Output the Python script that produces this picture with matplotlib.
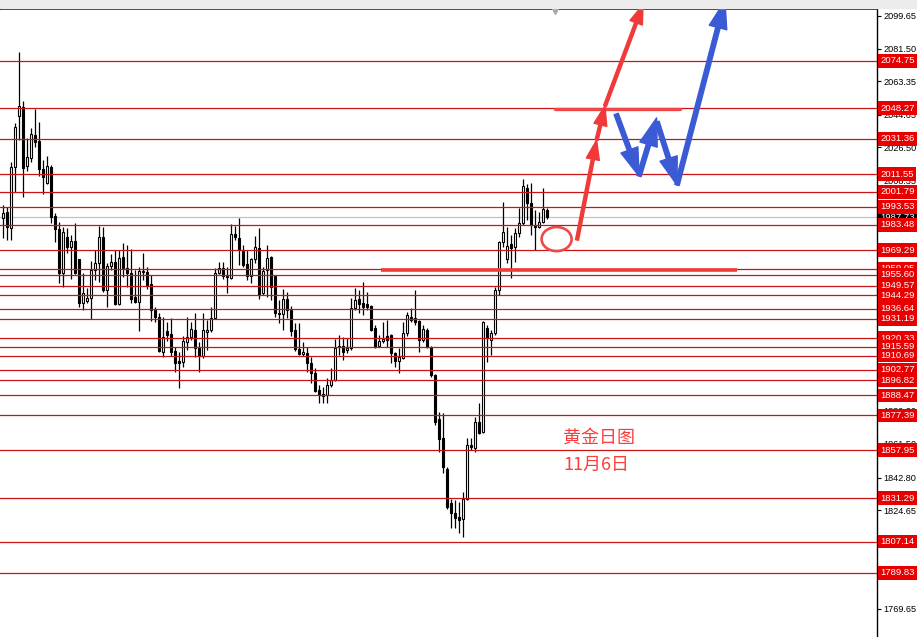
import numpy as np
import matplotlib.pyplot as plt
from matplotlib.patches import Ellipse, FancyArrowPatch, Rectangle

plt.rcParams['font.family'] = ['Liberation Sans', 'DejaVu Sans']

# daily gold candles (oldest -> newest)
opens = [1987.2, 1990.6, 1981.7, 2015.6, 2044.0, 2049.0, 2016.2, 2020.6, 2033.4, 2030.1,
         2014.5, 2006.7, 2015.6, 1988.3, 1981.1, 1956.6, 1976.7, 1971.1, 1974.4, 1964.4,
         1939.9, 1941.0, 1942.7, 1958.3, 1962.2, 1976.7, 1947.2, 1960.5, 1962.7, 1939.4,
         1965.5, 1959.4, 1956.6, 1943.3, 1940.5, 1957.2, 1957.2, 1950.5, 1936.0, 1932.1,
         1912.7, 1924.3, 1922.7, 1913.2, 1907.7, 1907.1, 1918.2, 1921.0, 1924.9, 1914.9,
         1910.4, 1923.8, 1924.9, 1931.6, 1956.6, 1959.4, 1954.8, 1953.8, 1978.3, 1976.1,
         1968.9, 1961.6, 1955.0, 1964.4, 1970.5, 1945.5, 1958.3, 1965.5, 1955.0, 1934.4,
         1933.8, 1942.2, 1936.0, 1924.9, 1914.3, 1911.6, 1912.1, 1906.5, 1901.0, 1891.5,
         1889.3, 1888.7, 1894.3, 1897.1, 1916.0, 1916.0, 1913.8, 1914.9, 1937.2, 1942.2,
         1939.9, 1939.4, 1938.3, 1926.0, 1916.0, 1918.8, 1921.6, 1922.1, 1912.1, 1907.7,
         1909.3, 1923.2, 1932.1, 1931.6, 1929.9, 1919.3, 1924.9, 1915.4, 1899.9, 1875.4,
         1864.8, 1847.6, 1828.6, 1823.1, 1820.8, 1819.7, 1830.9, 1860.9, 1859.2, 1873.7,
         1868.1, 1926.0, 1919.3, 1923.2, 1947.2, 1973.9, 1964.4, 1972.8, 1971.1, 1978.9,
         1984.5, 2003.9, 1995.6, 1983.3, 1982.2, 1985.0, 1991.7]
highs = [1994.5, 1993.4, 2018.4, 2040.1, 2079.6, 2052.3, 2031.8, 2037.3, 2047.9, 2040.7,
         2019.5, 2021.7, 2016.7, 1990.0, 1985.0, 1982.2, 1981.7, 1977.8, 1984.5, 1964.4,
         1956.6, 1948.3, 1963.3, 1969.4, 1982.8, 1982.2, 1962.2, 1967.2, 1969.4, 1969.4,
         1973.3, 1972.2, 1970.0, 1958.3, 1960.0, 1967.8, 1960.0, 1955.5, 1937.7, 1934.4,
         1932.1, 1929.4, 1931.6, 1915.4, 1912.7, 1921.6, 1932.1, 1929.4, 1934.4, 1918.2,
         1934.4, 1930.5, 1937.7, 1959.4, 1962.7, 1962.7, 1960.0, 1983.9, 1982.8, 1987.2,
         1972.2, 1969.4, 1965.0, 1977.2, 1981.7, 1960.0, 1972.2, 1966.1, 1955.6, 1941.6,
         1947.7, 1946.1, 1938.3, 1928.8, 1928.8, 1918.2, 1915.4, 1909.9, 1903.8, 1894.3,
         1893.2, 1898.2, 1903.8, 1919.9, 1922.1, 1921.0, 1920.5, 1942.7, 1948.3, 1947.2,
         1951.6, 1946.1, 1938.8, 1927.7, 1922.1, 1929.4, 1930.5, 1922.6, 1912.7, 1914.9,
         1929.4, 1934.9, 1937.2, 1947.2, 1930.5, 1927.7, 1926.0, 1916.0, 1900.4, 1879.3,
         1878.7, 1848.7, 1830.9, 1830.3, 1829.2, 1834.8, 1864.8, 1864.8, 1876.5, 1884.3,
         1929.9, 1927.7, 1924.9, 1948.8, 1974.4, 1996.1, 1982.2, 1977.8, 1981.7, 1992.8,
         2008.9, 2006.2, 2006.7, 1991.7, 1990.6, 2003.9, 1992.8]
lows = [1976.1, 1975.0, 1975.0, 2001.7, 2030.6, 1998.9, 2013.4, 2018.4, 2026.7, 2010.6,
        2000.6, 2006.2, 1984.5, 1973.9, 1951.1, 1948.8, 1967.8, 1953.3, 1956.1, 1937.7,
        1936.0, 1939.9, 1931.0, 1952.7, 1951.6, 1946.1, 1937.7, 1958.3, 1938.8, 1938.8,
        1954.4, 1948.8, 1939.9, 1939.9, 1924.3, 1952.7, 1947.7, 1929.9, 1929.4, 1912.7,
        1909.9, 1918.8, 1910.4, 1901.5, 1892.6, 1904.3, 1913.8, 1919.3, 1909.9, 1901.5,
        1909.3, 1913.8, 1923.8, 1931.0, 1956.1, 1953.3, 1945.5, 1953.3, 1975.0, 1961.1,
        1960.0, 1952.7, 1951.1, 1962.2, 1942.2, 1944.4, 1943.3, 1941.6, 1932.1, 1928.8,
        1924.9, 1931.6, 1921.6, 1913.2, 1911.0, 1910.4, 1901.5, 1895.4, 1890.4, 1884.3,
        1884.3, 1884.3, 1893.2, 1896.5, 1911.0, 1908.2, 1912.1, 1913.8, 1936.0, 1934.4,
        1933.3, 1936.0, 1924.3, 1914.9, 1915.4, 1917.7, 1915.4, 1906.5, 1904.3, 1901.0,
        1908.8, 1921.6, 1929.4, 1927.7, 1912.7, 1918.2, 1914.9, 1898.8, 1872.0, 1857.0,
        1845.3, 1825.3, 1814.7, 1814.7, 1811.9, 1809.7, 1830.3, 1858.1, 1857.0, 1867.0,
        1867.6, 1907.1, 1911.0, 1922.1, 1944.4, 1971.1, 1962.2, 1953.8, 1962.7, 1976.7,
        1983.3, 1986.1, 1977.8, 1969.4, 1981.7, 1984.5, 1986.7]
closes = [1990.0, 1982.2, 2015.6, 2037.9, 2049.6, 2015.1, 2021.2, 2034.0, 2029.5, 2014.5,
          2010.1, 2016.2, 1987.8, 1981.1, 1956.6, 1979.4, 1971.1, 1974.4, 1956.6, 1939.9,
          1945.5, 1942.7, 1958.3, 1962.2, 1976.7, 1947.2, 1960.5, 1962.7, 1939.4, 1965.0,
          1959.4, 1956.6, 1942.2, 1940.5, 1957.7, 1957.7, 1949.9, 1936.0, 1932.1, 1913.2,
          1921.0, 1922.1, 1912.7, 1906.5, 1906.5, 1918.8, 1921.0, 1925.5, 1914.9, 1910.4,
          1924.9, 1924.9, 1931.6, 1956.6, 1959.4, 1955.0, 1954.4, 1978.3, 1976.7, 1969.4,
          1961.1, 1955.0, 1964.4, 1971.1, 1944.4, 1957.7, 1965.0, 1948.8, 1934.4, 1933.8,
          1942.2, 1936.0, 1924.3, 1914.3, 1911.6, 1912.7, 1906.5, 1901.0, 1891.0, 1888.7,
          1888.2, 1894.3, 1897.1, 1914.9, 1915.4, 1912.7, 1914.9, 1937.2, 1941.6, 1939.4,
          1937.7, 1937.7, 1924.9, 1915.4, 1918.8, 1919.9, 1919.3, 1912.1, 1907.7, 1909.9,
          1923.2, 1933.3, 1930.5, 1929.4, 1919.3, 1925.5, 1915.4, 1899.9, 1873.7, 1864.3,
          1848.7, 1826.4, 1823.1, 1820.3, 1819.2, 1830.9, 1860.9, 1859.8, 1873.7, 1867.6,
          1929.4, 1920.5, 1923.2, 1947.2, 1973.9, 1979.4, 1971.6, 1970.5, 1978.9, 1984.5,
          2005.0, 1995.6, 1983.3, 1982.2, 1985.0, 1992.2, 1987.8]

# horizontal levels drawn on the chart
levels = [2074.75, 2048.27, 2031.36, 2011.55, 2001.79, 1993.53, 1983.48, 1969.29,
          1959.05, 1955.60, 1949.57, 1944.29, 1936.64, 1931.19, 1920.33, 1915.59,
          1910.69, 1902.77, 1896.82, 1888.47, 1877.39, 1857.95, 1831.29, 1807.14,
          1789.83]
price_ticks = [2099.65, 2081.50, 2063.35, 2044.65, 2026.50, 2008.35, 1990.20, 1971.50,
               1953.35, 1935.20, 1916.50, 1898.35, 1880.20, 1861.50, 1842.80, 1824.65,
               1806.50, 1788.35, 1769.65]
last_price = 1987.73

# hand drawn forecast: support / resistance bars, circle and arrows
support = (94.5, 183.5, 1958.3)
resistance = (138.0, 169.3, 2047.9)
circle = (138.4, 1975.5)
red_path = [(143.5, 1975.0), (148.4, 2030.6), (150.5, 2049.6), (160.0, 2106.0)]
blue_path = [(153.3, 2045.1), (159.0, 2010.6), (163.4, 2042.9),
             (163.5, 2040.7), (168.5, 2005.6), (180.5, 2108.2)]

opens = np.array(opens)
highs = np.array(highs)
lows = np.array(lows)
closes = np.array(closes)

fig = plt.figure(figsize=(9.17, 6.37), dpi=100)
fig.patches.append(Rectangle((0, 1 - 8 / 637), 1, 8 / 637, transform=fig.transFigure,
                             color='#ececec', zorder=0))
ax = fig.add_axes([0, 0, 877 / 917, 1 - 9 / 637])

x = np.arange(len(opens))
up = closes >= opens
body = np.maximum(np.abs(closes - opens), 0.35)
ax.vlines(x, lows, highs, color='black', linewidth=0.9, zorder=2)
ax.bar(x[up], body[up], bottom=opens[up], width=0.6, color='white',
       edgecolor='black', linewidth=0.8, zorder=2.2)
ax.bar(x[~up], body[~up], bottom=closes[~up], width=0.6, color='black',
       edgecolor='black', linewidth=0.8, zorder=2.2)

ax.axhline(last_price, color='#c0c0c0', linewidth=0.9, zorder=1)
for lv in levels:
    ax.axhline(lv, color='#c81414', linewidth=0.9, zorder=3)

# price labels on the right, lower ones on top
ax.text(1.004, last_price, '%.2f' % last_price, transform=ax.get_yaxis_transform(),
        fontsize=6.8, color='white', va='center', ha='left', zorder=4, clip_on=False,
        bbox=dict(boxstyle='square,pad=0.25', fc='black', ec='none'))
for i, lv in enumerate(levels):
    ax.text(1.004, lv, '%.2f' % lv, transform=ax.get_yaxis_transform(),
            fontsize=6.8, color='white', va='center', ha='left', zorder=5 + i * 0.01,
            clip_on=False, bbox=dict(boxstyle='square,pad=0.25', fc='#e80000', ec='none'))

ax.hlines(support[2], support[0], support[1], color='#f03a3a', linewidth=2.6, zorder=5)
ax.hlines(resistance[2], resistance[0], resistance[1], color='#f04848', linewidth=2.4,
          capstyle='round', zorder=5)
ax.add_patch(Ellipse(circle, 7.5, 13.4, fill=False, edgecolor='#f04848', linewidth=1.9,
                     zorder=5))

for a, b in zip(red_path[:-1], red_path[1:]):
    ax.add_patch(FancyArrowPatch(a, b, arrowstyle='simple,head_length=1.4,head_width=0.95,tail_width=0.22',
                                 mutation_scale=10, color='#f03a3a', shrinkA=0, shrinkB=0,
                                 clip_on=False, zorder=6))
for j in [0, 1, 3, 4]:
    a, b = blue_path[j], blue_path[j + 1]
    ax.add_patch(FancyArrowPatch(a, b, arrowstyle='simple,head_length=2.0,head_width=1.3,tail_width=0.32',
                                 mutation_scale=10, color='#3b5bd5', shrinkA=0, shrinkB=0,
                                 clip_on=False, zorder=6))

ax.plot(138, 2102.4, marker='v', color='#a8a8a8', markersize=5, zorder=6, clip_on=False)

cjk = ['Noto Sans CJK SC', 'DejaVu Sans']
ax.text(140, 1864.8, '黄金日图', color='#ff3c3c', fontsize=13, va='center', ha='left',
        family=cjk, zorder=6)
ax.text(140, 1849.8, '11月6日', color='#ff3c3c', fontsize=13, va='center', ha='left',
        family=cjk, zorder=6)

ax.set_xlim(-0.75, 218.5)
ax.set_ylim(1754.06, 2103.54)
ax.set_xticks([])
ax.yaxis.tick_right()
ax.set_yticks(price_ticks)
ax.set_yticklabels(['%.2f' % v for v in price_ticks])
ax.tick_params(axis='y', direction='out', length=3, width=0.8, labelsize=6.6, pad=1.5)
for s in ['left', 'bottom']:
    ax.spines[s].set_visible(False)
ax.spines['top'].set_linewidth(1.2)
ax.spines['right'].set_linewidth(1.0)

fig.savefig('out.png', dpi=100)
